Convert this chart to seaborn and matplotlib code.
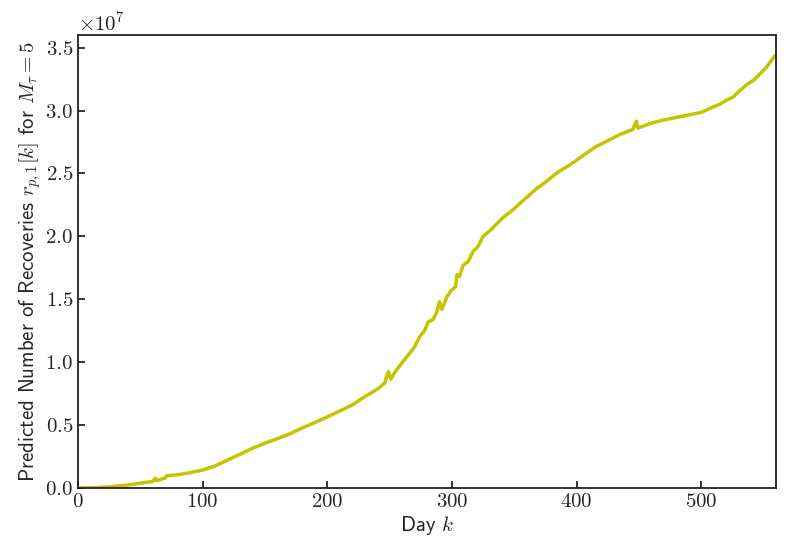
import seaborn as sns
import matplotlib.pyplot as plt
import pandas as pd

# day index and predicted recoveries (in units of 1e7)
days = [0, 10, 20, 30, 40, 50, 55, 60, 62, 63, 70, 71, 80, 90, 100, 110, 120,
        130, 140, 150, 160, 170, 180, 190, 200, 210, 220, 230, 240, 246, 249,
        251, 255, 260, 266, 270, 274, 278, 281, 285, 288, 290, 292, 296, 300,
        303, 304, 306, 309, 313, 317, 321, 325, 330, 335, 340, 345, 350, 355,
        360, 368, 375, 385, 395, 405, 415, 425, 435, 445, 448, 449, 460, 470,
        480, 490, 500, 510, 515, 520, 526, 530, 537, 542, 548, 552, 558, 560]
recov = [0.0, 0.002, 0.006, 0.014, 0.024, 0.038, 0.045, 0.052, 0.078, 0.058,
         0.08, 0.098, 0.105, 0.122, 0.143, 0.175, 0.222, 0.268, 0.316, 0.356,
         0.392, 0.43, 0.478, 0.52, 0.565, 0.612, 0.66, 0.725, 0.785, 0.833,
         0.925, 0.865, 0.93, 0.995, 1.07, 1.12, 1.2, 1.25, 1.32, 1.34, 1.40,
         1.48, 1.42, 1.52, 1.575, 1.60, 1.695, 1.68, 1.77, 1.80, 1.88, 1.92,
         2.0, 2.04, 2.09, 2.14, 2.18, 2.22, 2.265, 2.31, 2.38, 2.43, 2.51,
         2.57, 2.64, 2.71, 2.76, 2.81, 2.85, 2.915, 2.86, 2.90, 2.925, 2.945,
         2.965, 2.985, 3.03, 3.05, 3.08, 3.11, 3.15, 3.21, 3.24, 3.30, 3.34,
         3.42, 3.44]

df = pd.DataFrame({"day": days, "r": [v * 1e7 for v in recov]})

sns.set_style("ticks")
plt.rcParams["mathtext.fontset"] = "cm"
plt.rcParams["font.family"] = ["cmr10", "DejaVu Sans"]
plt.rcParams["axes.formatter.use_mathtext"] = True
plt.rcParams["axes.unicode_minus"] = False

fig = plt.figure(figsize=(7.91, 5.56), dpi=100)
ax = fig.add_axes([0.0986, 0.1223, 0.8824, 0.8147])

sns.lineplot(data=df, x="day", y="r", color="#c4c400", linewidth=2.5, ax=ax)

ax.set_xlim(0, 560)
ax.set_ylim(0, 3.6e7)
ax.set_xticks([0, 100, 200, 300, 400, 500])
ax.set_yticks([0, 0.5e7, 1e7, 1.5e7, 2e7, 2.5e7, 3e7, 3.5e7])
ax.ticklabel_format(axis="y", style="sci", scilimits=(0, 0))
ax.tick_params(direction="in", labelsize=15, width=1.3, length=5)
ax.yaxis.get_offset_text().set_fontsize(15)
for s in ax.spines.values():
    s.set_linewidth(1.3)
    s.set_color("#222222")

ax.set_xlabel(r"Day $k$", family="cmss10", fontsize=15, labelpad=2)
ax.set_ylabel(r"Predicted Number of Recoveries $r_{p,1}[k]$ for $M_\tau = 5$",
              family="cmss10", fontsize=15, labelpad=2)

fig.savefig("out.png", dpi=100)
